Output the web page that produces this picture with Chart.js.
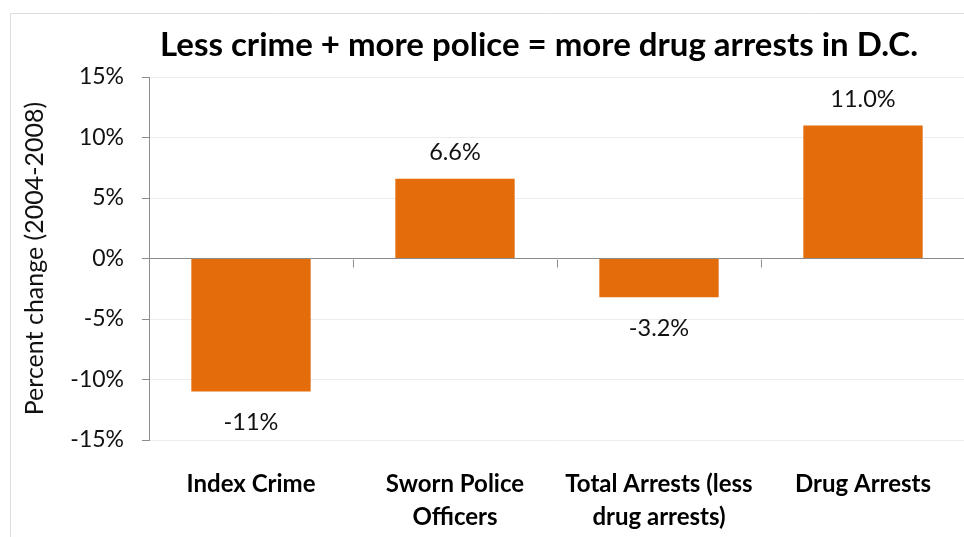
<!DOCTYPE html>
<html>
<head>
<meta charset="utf-8">
<script src="https://cdn.jsdelivr.net/npm/chart.js@4"></script>
<style>
  html, body { margin: 0; padding: 0; background: #fff; overflow: hidden; }
  #wrap { width: 1078px; height: 537px; }
</style>
</head>
<body>
<div id="wrap"><canvas id="chart" width="1078" height="537"></canvas></div>
<script>
const chartTitle = "Less crime + more police = more drug arrests in D.C.";
const categories = [
  "Index Crime",
  ["Sworn Police", "Officers"],
  ["Total Arrests (less", "drug arrests)"],
  "Drug Arrests",
];
const changes = [-11, 6.6, -3.2, 11.0];
const changeLabels = ["-11%", "6.6%", "-3.2%", "11.0%"];
const yTicks = [-15, -10, -5, 0, 5, 10, 15];

const FONT = "Lato, 'Open Sans', sans-serif";
const BAR = "#E46C0A";
const AXIS = "#8c8c8c";
const GRID = "#ececec";
const TEXT = "#111";

// thin frame around the whole chart, and the title centred across it
const framePlugin = {
  id: "frame",
  beforeDraw(chart) {
    const ctx = chart.ctx;
    ctx.save();
    ctx.strokeStyle = "#dedede";
    ctx.lineWidth = 1;
    ctx.beginPath();
    ctx.moveTo(10.5, chart.height);
    ctx.lineTo(10.5, 13.5);
    ctx.lineTo(chart.width, 13.5);
    ctx.stroke();
    ctx.font = "bold 33px " + FONT;
    ctx.fillStyle = "#000";
    ctx.textAlign = "center";
    ctx.textBaseline = "middle";
    ctx.fillText(chartTitle, chart.width / 2, 45);
    ctx.restore();
  },
};

// small tick marks on the zero line between categories
const zeroTicksPlugin = {
  id: "zeroTicks",
  afterDraw(chart) {
    const x = chart.scales.x;
    const y0 = Math.round(chart.scales.y.getPixelForValue(0)) + 0.5;
    const step = (x.right - x.left) / categories.length;
    const ctx = chart.ctx;
    ctx.save();
    ctx.strokeStyle = AXIS;
    ctx.lineWidth = 1;
    ctx.beginPath();
    for (let i = 1; i <= categories.length; i++) {
      const px = Math.round(x.left + i * step) + 0.5;
      ctx.moveTo(px, y0);
      ctx.lineTo(px, y0 + 8);
    }
    ctx.stroke();
    ctx.restore();
  },
};

// value labels above positive bars, below negative ones
const valueLabelPlugin = {
  id: "valueLabels",
  afterDatasetsDraw(chart) {
    const ctx = chart.ctx;
    const bars = chart.getDatasetMeta(0).data;
    ctx.save();
    ctx.font = "23.5px " + FONT;
    ctx.fillStyle = TEXT;
    ctx.textAlign = "center";
    ctx.textBaseline = "middle";
    bars.forEach((bar, i) => {
      const off = changes[i] >= 0 ? -26 : 31;
      ctx.fillText(changeLabels[i], bar.x, bar.y + off);
    });
    ctx.restore();
  },
};

new Chart(document.getElementById("chart"), {
  type: "bar",
  data: {
    labels: categories,
    datasets: [{
      data: changes,
      backgroundColor: BAR,
      categoryPercentage: 1,
      barPercentage: 0.585,
    }],
  },
  options: {
    responsive: false,
    animation: false,
    layout: { padding: { left: 0, right: 113, top: 77, bottom: 0 } },
    plugins: {
      legend: { display: false },
      tooltip: { enabled: false },
      title: { display: false },
    },
    scales: {
      x: {
        grid: { display: false, drawTicks: false },
        border: { display: false },
        ticks: {
          color: "#000",
          padding: 28,
          maxRotation: 0,
          autoSkip: false,
          font: { family: FONT, size: 24, weight: "bold", lineHeight: 1.38 },
        },
        afterFit(scale) { scale.height = 97; },
      },
      y: {
        min: -15,
        max: 15,
        afterBuildTicks(scale) { scale.ticks = yTicks.map((v) => ({ value: v })); },
        grid: {
          color: (c) => (c.tick && c.tick.value === 0 ? AXIS : GRID),
          tickColor: AXIS,
          tickLength: 7,
        },
        border: { display: true, color: AXIS },
        ticks: {
          color: TEXT,
          padding: 18,
          font: { family: FONT, size: 23 },
          callback: (v) => v + "%",
        },
        title: {
          display: true,
          text: "Percent change (2004-2008)",
          color: TEXT,
          font: { family: FONT, size: 25 },
          padding: { top: 20, bottom: 0 },
        },
        afterFit(scale) { scale.width = 149; },
      },
    },
  },
  plugins: [framePlugin, zeroTicksPlugin, valueLabelPlugin],
});
</script>
</body>
</html>
